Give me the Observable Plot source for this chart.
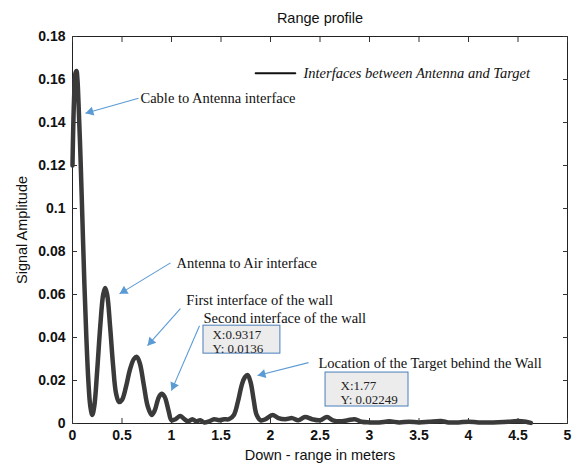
<!DOCTYPE html>
<html>
<head>
<meta charset="utf-8">
<script src="https://cdn.jsdelivr.net/npm/d3@7"></script>
<script src="https://cdn.jsdelivr.net/npm/@observablehq/plot@0.6"></script>
<style>
  html, body { margin: 0; padding: 0; background: #fff; }
  #chart svg { display: block; }
</style>
</head>
<body>
<div id="chart"></div>
<script>
// Range profile samples: down-range (m) and signal amplitude
const rangeM = [0.00,0.015,0.03,0.04,0.05,0.06,0.08,0.10,0.12,0.14,0.16,0.18,0.20,0.22,0.25,0.28,0.31,0.33,0.35,0.38,0.41,0.44,0.47,0.50,0.54,0.58,0.62,0.65,0.68,0.72,0.76,0.80,0.83,0.87,0.90,0.93,0.97,1.00,1.04,1.09,1.13,1.17,1.21,1.25,1.29,1.33,1.38,1.43,1.48,1.53,1.58,1.63,1.67,1.71,1.74,1.77,1.80,1.83,1.86,1.90,1.95,2.02,2.08,2.15,2.22,2.28,2.35,2.42,2.50,2.57,2.63,2.70,2.78,2.85,2.92,3.00,3.10,3.20,3.30,3.40,3.50,3.60,3.72,3.80,3.90,4.00,4.10,4.20,4.30,4.40,4.50,4.58,4.63];
const amplitude = [0.120,0.150,0.163,0.164,0.160,0.150,0.125,0.095,0.065,0.040,0.020,0.008,0.004,0.008,0.025,0.045,0.060,0.063,0.060,0.045,0.027,0.014,0.010,0.011,0.017,0.025,0.030,0.031,0.028,0.018,0.008,0.004,0.006,0.012,0.0138,0.0125,0.006,0.0015,0.002,0.0035,0.002,0.001,0.002,0.001,0.0015,0.0005,0.001,0.002,0.0015,0.002,0.002,0.004,0.010,0.018,0.0215,0.0225,0.019,0.011,0.004,0.0015,0.002,0.004,0.0025,0.002,0.0025,0.0015,0.003,0.002,0.0015,0.003,0.0015,0.001,0.0015,0.002,0.0008,0.0005,0.0005,0.001,0.0005,0.0008,0.0005,0.0008,0.0012,0.0005,0.0005,0.0008,0.0005,0.0005,0.0006,0.0008,0.0012,0.0008,0.0003];

const xTicks = [0,0.5,1,1.5,2,2.5,3,3.5,4,4.5,5];
const xTickLabels = ["0","0.5","1","1.5","2","2.5","3","3.5","4","4.5","5"];
const yTicks = [0,0.02,0.04,0.06,0.08,0.1,0.12,0.14,0.16,0.18];
const yTickLabels = ["0","0.02","0.04","0.06","0.08","0.1","0.12","0.14","0.16","0.18"];

// Annotations (data coordinates)
const noteTexts = ["Cable to Antenna interface","Antenna to Air interface","First interface of the wall","Second interface of the wall","Location of the Target behind the Wall"];
const noteTextX = [0.687,1.05,1.15,1.323,2.485];
const noteTextY = [0.1513,0.0747,0.0575,0.0487,0.0278];
const arrowFromX = [0.667,0.99,1.09,1.283,2.384];
const arrowFromY = [0.1513,0.0747,0.0534,0.0455,0.0283];
const arrowToX = [0.131,0.475,0.758,1.0,1.869];
const arrowToY = [0.1443,0.0603,0.0362,0.0153,0.0223];

// Data tips
const tipX1 = [1.323,2.556];
const tipX2 = [2.10,3.394];
const tipY1 = [0.0325,0.0079];
const tipY2 = [0.0455,0.0237];
const tipLines = [["X:0.9317","Y: 0.0136"],["X:1.77","Y: 0.02249"]];
const tipTextX = [1.414,2.707];
const tipTextY = [[0.0413,0.0348],[0.0176,0.0111]];

const legendLabel = "Interfaces between Antenna and Target";
const legendLineX = [1.85,2.25];
const legendY = 0.1629;
const legendTextX = 2.333;

const title = "Range profile";
const xLabel = "Down - range in meters";
const yLabel = "Signal Amplitude";

const series = rangeM.map((x, i) => ({x, y: amplitude[i]}));
const notes = noteTexts.map((t, i) => ({t, tx: noteTextX[i], ty: noteTextY[i], x1: arrowFromX[i], y1: arrowFromY[i], x2: arrowToX[i], y2: arrowToY[i]}));
const tips = tipX1.map((x1, i) => ({x1, x2: tipX2[i], y1: tipY1[i], y2: tipY2[i]}));
const tipTexts = tipLines.flatMap((lines, i) => lines.map((t, j) => ({t, x: tipTextX[i], y: tipTextY[i][j]})));

const sans = "Liberation Sans, Arial, sans-serif";
const serif = "Liberation Serif, Times New Roman, serif";
const blue = "#5b9bd5";

const base = {
  width: 573,
  height: 466,
  marginTop: 36,
  marginBottom: 43,
  marginLeft: 72,
  marginRight: 6,
  style: {fontFamily: sans, background: "#fff", overflow: "visible"},
  x: {domain: [0, 5]},
  y: {domain: [0, 0.18]}
};

// First pass to obtain the scales for arrowhead orientation
const probe = Plot.plot({...base, marks: [Plot.frame()]});
const sx = probe.scale("x"), sy = probe.scale("y");
const headR = 3.4;
const heads = notes.map(n => {
  const px1 = sx.apply(n.x1), py1 = sy.apply(n.y1);
  const px2 = sx.apply(n.x2), py2 = sy.apply(n.y2);
  const dx = px2 - px1, dy = py2 - py1, L = Math.hypot(dx, dy);
  const back = 2 * Math.sqrt((Math.PI * headR * headR) / (Math.sqrt(3) * 3)); // apex distance from centroid
  const cx = px2 - dx / L * back, cy = py2 - dy / L * back;
  return {x: sx.invert(cx), y: sy.invert(cy), angle: Math.atan2(dx, -dy) * 180 / Math.PI};
});

const chart = Plot.plot({
  ...base,
  marks: [
    Plot.frame({stroke: "#222", strokeWidth: 1}),
    Plot.axisX({ticks: xTicks, tickFormat: d => xTickLabels[xTicks.indexOf(d)], tickSize: -5, tickPadding: 12, fontSize: 14, fontWeight: "bold", fill: "#111", stroke: "#333", label: null}),
    Plot.axisX({anchor: "top", ticks: xTicks, tickSize: -5, tickFormat: () => "", stroke: "#333", label: null}),
    Plot.axisY({ticks: yTicks, tickFormat: d => yTickLabels[yTicks.indexOf(d)], tickSize: -5, tickPadding: 12, fontSize: 14, fontWeight: "bold", fill: "#111", stroke: "#333", label: null}),
    Plot.axisY({anchor: "right", ticks: yTicks, tickSize: -5, tickFormat: () => "", stroke: "#333", label: null}),
    Plot.line(series, {x: "x", y: "y", stroke: "#3a3a3a", strokeWidth: 4.5, curve: "catmull-rom", strokeLinejoin: "round", strokeLinecap: "round"}),
    Plot.link(notes, {x1: "x1", y1: "y1", x2: "x2", y2: "y2", stroke: blue, strokeWidth: 1.1}),
    Plot.dot(heads, {x: "x", y: "y", rotate: "angle", symbol: "triangle", r: headR, fill: blue, stroke: "none"}),
    Plot.text(notes, {x: "tx", y: "ty", text: "t", textAnchor: "start", fontFamily: serif, fontSize: 14.5, fill: "#111"}),
    Plot.rect(tips, {x1: "x1", x2: "x2", y1: "y1", y2: "y2", fill: "#ececec", stroke: "#4a7ebb", strokeWidth: 1}),
    Plot.text(tipTexts, {x: "x", y: "y", text: "t", textAnchor: "start", fontFamily: serif, fontSize: 13, fill: "#222"}),
    Plot.line(legendLineX.map(x => ({x, y: legendY})), {x: "x", y: "y", stroke: "#111", strokeWidth: 2}),
    Plot.text([legendLabel], {x: legendTextX, y: legendY, text: d => d, textAnchor: "start", fontFamily: serif, fontStyle: "italic", fontSize: 14.5, fill: "#111"}),
    Plot.text([title], {frameAnchor: "top", dy: -18, lineAnchor: "middle", textAnchor: "middle", text: d => d, fontSize: 14.5, fill: "#111"}),
    Plot.text([xLabel], {frameAnchor: "bottom", dy: 32, lineAnchor: "middle", textAnchor: "middle", text: d => d, fontSize: 14.5, fill: "#111"}),
    Plot.text([yLabel], {frameAnchor: "left", dx: -50, rotate: -90, lineAnchor: "middle", textAnchor: "middle", text: d => d, fontSize: 14.5, fill: "#111"})
  ]
});
document.getElementById("chart").appendChild(chart);
</script>
</body>
</html>
